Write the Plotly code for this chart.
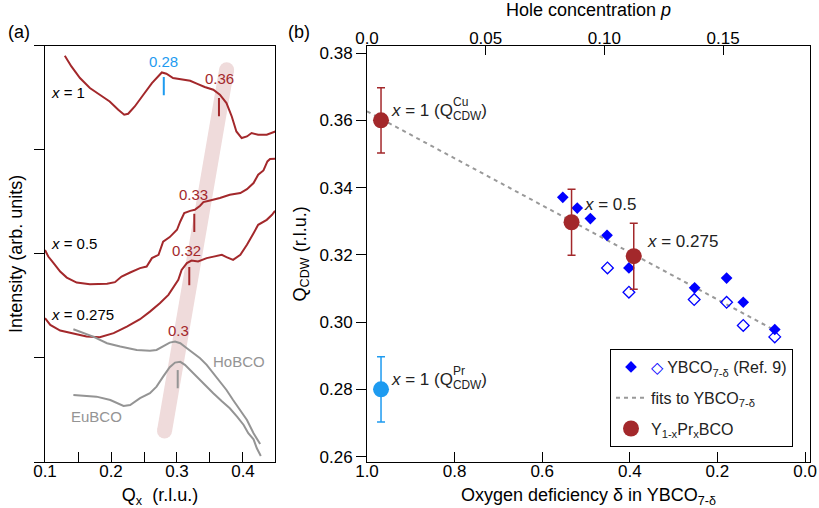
import plotly.graph_objects as go

# ---------------- Panel (a): line cuts (arb. units) ----------------
q_x1 = [0.130, 0.140, 0.153, 0.168, 0.183, 0.198, 0.211, 0.220, 0.226, 0.236, 0.249, 0.262, 0.277, 0.284,
        0.294, 0.307, 0.320, 0.330, 0.342, 0.355, 0.365, 0.375, 0.383, 0.390, 0.398, 0.406, 0.413, 0.423,
        0.436, 0.449]
i_x1 = [3.904, 3.801, 3.689, 3.593, 3.529, 3.464, 3.385, 3.337, 3.346, 3.416, 3.529, 3.641, 3.743, 3.731,
        3.689, 3.673, 3.663, 3.635, 3.603, 3.577, 3.529, 3.449, 3.320, 3.176, 3.113, 3.128, 3.161, 3.144,
        3.144, 3.176]

q_x05 = [0.100, 0.105, 0.113, 0.123, 0.133, 0.148, 0.168, 0.194, 0.206, 0.216, 0.229, 0.244, 0.254, 0.262,
         0.272, 0.279, 0.289, 0.300, 0.305, 0.311, 0.320, 0.327, 0.335, 0.340, 0.350, 0.365, 0.380, 0.396,
         0.406, 0.416, 0.423, 0.431, 0.437, 0.441, 0.449]
i_x05 = [2.038, 1.974, 1.911, 1.830, 1.772, 1.724, 1.709, 1.712, 1.728, 1.782, 1.821, 1.863, 1.878, 1.959,
         1.990, 2.118, 2.161, 2.231, 2.311, 2.391, 2.413, 2.423, 2.462, 2.497, 2.513, 2.536, 2.567, 2.584,
         2.622, 2.680, 2.760, 2.801, 2.888, 2.911, 2.913]

q_x0275 = [0.100, 0.108, 0.123, 0.143, 0.163, 0.183, 0.204, 0.224, 0.244, 0.259, 0.274, 0.287, 0.297, 0.302,
           0.307, 0.315, 0.322, 0.332, 0.345, 0.355, 0.368, 0.375, 0.385, 0.396, 0.406, 0.416, 0.423, 0.436,
           0.444, 0.4485]
i_x0275 = [1.382, 1.317, 1.263, 1.231, 1.205, 1.199, 1.238, 1.301, 1.372, 1.445, 1.526, 1.606, 1.702, 1.750,
           1.846, 1.911, 1.936, 1.926, 1.959, 1.974, 1.990, 1.968, 1.942, 1.990, 2.087, 2.199, 2.279, 2.327,
           2.375, 2.413]

q_ho = [0.143, 0.158, 0.173, 0.194, 0.214, 0.239, 0.259, 0.269, 0.279, 0.289, 0.297, 0.305, 0.315, 0.325,
        0.335, 0.345, 0.355, 0.365, 0.375, 0.385, 0.396, 0.406, 0.416, 0.421, 0.426]
i_ho = [1.276, 1.238, 1.205, 1.141, 1.109, 1.077, 1.070, 1.077, 1.115, 1.147, 1.157, 1.141, 1.093, 1.045,
        0.997, 0.933, 0.853, 0.772, 0.692, 0.596, 0.500, 0.404, 0.276, 0.218, 0.173]

q_eu = [0.143, 0.158, 0.178, 0.199, 0.219, 0.229, 0.244, 0.259, 0.269, 0.279, 0.289, 0.297, 0.305, 0.312,
        0.322, 0.332, 0.345, 0.355, 0.368, 0.380, 0.391, 0.401, 0.408, 0.416, 0.421, 0.427]
i_eu = [0.644, 0.635, 0.628, 0.596, 0.538, 0.548, 0.613, 0.661, 0.724, 0.820, 0.911, 0.955, 0.962, 0.933,
        0.868, 0.805, 0.724, 0.661, 0.583, 0.516, 0.436, 0.356, 0.276, 0.218, 0.132, 0.058]

# guide band through the peaks
band_q = [0.3752, 0.2811]
band_i = [3.769, 0.298]

# peak markers
peak_q = [0.280, 0.3636, 0.3262, 0.3186, 0.3011]
peak_i = [3.611, 3.409, 2.298, 1.786, 0.796]
peak_lbl = ["0.28", "0.36", "0.33", "0.32", "0.3"]
peak_lbl_q = [0.2795, 0.3647, 0.3247, 0.3147, 0.302]
peak_lbl_i = [3.846, 3.683, 2.567, 2.032, 1.26]

qx_ticks = [0.1, 0.2, 0.3, 0.4]
qx_minor = [0.15, 0.25, 0.35]

# ---------------- Panel (b) data ----------------
ybco_d_full = [0.553, 0.520, 0.490, 0.452, 0.402, 0.252, 0.179, 0.141, 0.069]
ybco_q_full = [0.3371, 0.3339, 0.3308, 0.3258, 0.3161, 0.3102, 0.3131, 0.3059, 0.2978]
ybco_d_open = [0.451, 0.402, 0.253, 0.179, 0.141, 0.069]
ybco_q_open = [0.3161, 0.3089, 0.3067, 0.3059, 0.2990, 0.2956]

fit_d = [1.0, 0.068]
fit_q = [0.3627, 0.2975]

ypr_d = [0.968, 0.533, 0.391]
ypr_q = [0.360, 0.3297, 0.3196]
ypr_err = [0.0097, 0.0098, 0.0098]

pr_d = [0.968]
pr_q = [0.280]
pr_err = [0.0097]

delta_ticks = [1.0, 0.8, 0.6, 0.4, 0.2, 0.0]
delta_ticktext = ["1.0", "0.8", "0.6", "0.4", "0.2", "0.0"]
qcdw_ticks = [0.26, 0.28, 0.30, 0.32, 0.34, 0.36, 0.38]
qcdw_ticktext = ["0.26", "0.28", "0.30", "0.32", "0.34", "0.36", "0.38"]

# top axis (hole concentration p)
p_ticks = [0.0, 0.05, 0.10, 0.15]
p_ticktext = ["0.0", "0.05", "0.10", "0.15"]

# ---------------- styling ----------------
FONT = "Liberation Sans, Arial, Helvetica, sans-serif"
RED = "#a3282b"
GRAY = "#949494"
BLUE_L = "#1e9bf0"
BLUE = "#0000ff"
BAND = "#efdbdb"

fig = go.Figure()

# panel (a)
fig.add_trace(go.Scatter(x=band_q, y=band_i, mode="lines+markers",
                         line=dict(color=BAND, width=15), marker=dict(size=15, color=BAND, line=dict(width=0)),
                         xaxis="x", yaxis="y", showlegend=False, hoverinfo="skip"))
for q, i, c in [(q_x1, i_x1, RED), (q_x05, i_x05, RED), (q_x0275, i_x0275, RED),
                (q_ho, i_ho, GRAY), (q_eu, i_eu, GRAY)]:
    fig.add_trace(go.Scatter(x=q, y=i, mode="lines", line=dict(color=c, width=2),
                             xaxis="x", yaxis="y", showlegend=False))
fig.add_trace(go.Scatter(x=peak_q, y=peak_i, mode="markers",
                         marker=dict(symbol="line-ns", size=13,
                                     line=dict(width=2, color=[BLUE_L, RED, RED, RED, GRAY])),
                         xaxis="x", yaxis="y", showlegend=False))

# panel (b)
fig.add_trace(go.Scatter(x=fit_d, y=fit_q, mode="lines", name="fits to YBCO<sub>7-δ</sub>",
                         line=dict(color="#999999", width=2, dash="4px,4px"),
                         xaxis="x2", yaxis="y2", legendgroup="g2", legendrank=2))
fig.add_trace(go.Scatter(x=ybco_d_open, y=ybco_q_open, mode="markers",
                         marker=dict(symbol="diamond-open", size=9, color=BLUE, line=dict(width=1.3, color=BLUE)),
                         xaxis="x2", yaxis="y2", showlegend=False))
fig.add_trace(go.Scatter(x=ybco_d_full, y=ybco_q_full, mode="markers",
                         name='<span style="color:#0000ff">◇</span> YBCO<sub>7-δ</sub> (Ref. 9)',
                         marker=dict(symbol="diamond", size=9, color=BLUE),
                         xaxis="x2", yaxis="y2", legendgroup="g1", legendrank=1))
fig.add_trace(go.Scatter(x=pr_d, y=pr_q, mode="markers",
                         marker=dict(size=16, color=BLUE_L),
                         error_y=dict(type="data", array=pr_err, color=BLUE_L, thickness=1.5, width=4),
                         xaxis="x2", yaxis="y2", showlegend=False))
fig.add_trace(go.Scatter(x=ypr_d, y=ypr_q, mode="markers", name="Y<sub>1-x</sub>Pr<sub>x</sub>BCO",
                         marker=dict(size=16, color=RED),
                         error_y=dict(type="data", array=ypr_err, color=RED, thickness=1.5, width=4),
                         xaxis="x2", yaxis="y2", legendgroup="g3", legendrank=3))
# empty trace so that the top (hole concentration) axis is drawn
fig.add_trace(go.Scatter(x=[], y=[], mode="markers", xaxis="x3", yaxis="y2", showlegend=False,
                         hoverinfo="skip"))

ann = []
for t, q, i, c in zip(peak_lbl, peak_lbl_q, peak_lbl_i, [BLUE_L, RED, RED, RED, RED]):
    ann.append(dict(text=t, x=q, y=i, xref="x", yref="y", showarrow=False,
                    font=dict(size=15, color=c, family=FONT)))
for t, i in [("<i>x</i> = 1", 3.555), ("<i>x</i> = 0.5", 2.103), ("<i>x</i> = 0.275", 1.42)]:
    ann.append(dict(text=t, x=0.106, y=i, xref="x", yref="y", showarrow=False, xanchor="left",
                    font=dict(size=15, color="black", family=FONT)))
ann.append(dict(text="HoBCO", x=0.3944, y=0.964, xref="x", yref="y", showarrow=False,
                font=dict(size=15, color=GRAY, family=FONT)))
ann.append(dict(text="EuBCO", x=0.1783, y=0.442, xref="x", yref="y", showarrow=False,
                font=dict(size=15, color=GRAY, family=FONT)))

# panel (b) labels
ann.append(dict(text="<i>x</i> = 1 (Q<sub>CDW</sub>)", x=0.949, y=0.3625, xref="x2", yref="y2",
                showarrow=False, xanchor="left", font=dict(size=17, color="#222", family=FONT)))
ann.append(dict(text="Cu", x=0.808, y=0.3655, xref="x2", yref="y2",
                showarrow=False, xanchor="left", font=dict(size=12, color="#222", family=FONT)))
ann.append(dict(text="<i>x</i> = 1 (Q<sub>CDW</sub>)", x=0.949, y=0.2825, xref="x2", yref="y2",
                showarrow=False, xanchor="left", font=dict(size=17, color="#222", family=FONT)))
ann.append(dict(text="Pr", x=0.808, y=0.2855, xref="x2", yref="y2",
                showarrow=False, xanchor="left", font=dict(size=12, color="#222", family=FONT)))
ann.append(dict(text="<i>x</i> = 0.5", x=0.510, y=0.3349, xref="x2", yref="y2",
                showarrow=False, xanchor="left", font=dict(size=17, color="#222", family=FONT)))
ann.append(dict(text="<i>x</i> = 0.275", x=0.366, y=0.3240, xref="x2", yref="y2",
                showarrow=False, xanchor="left", font=dict(size=17, color="#222", family=FONT)))
ann.append(dict(text="(a)", x=19 / 819, y=1 - 32 / 508, xref="paper", yref="paper", showarrow=False,
                xanchor="center", yanchor="middle", font=dict(size=18, color="black", family=FONT)))
ann.append(dict(text="(b)", x=299 / 819, y=1 - 32 / 508, xref="paper", yref="paper", showarrow=False,
                xanchor="center", yanchor="middle", font=dict(size=18, color="black", family=FONT)))

axis_common = dict(showline=True, linecolor="black", linewidth=1, showgrid=False, zeroline=False,
                   automargin=False,
                   tickcolor="black", tickwidth=1, tickfont=dict(size=17, color="black", family=FONT))

ydom = [46 / 508, 1 - 45.7 / 508]
fig.update_layout(
    width=819, height=508, margin=dict(l=0, r=0, t=0, b=0, autoexpand=False),
    paper_bgcolor="white", plot_bgcolor="white",
    font=dict(family=FONT, color="black"),
    annotations=ann,
    xaxis=dict(domain=[45 / 819, 275 / 819], range=[0.1, 0.4485], anchor="y", mirror=True,
               tickvals=qx_ticks, ticktext=[f"{v:.1f}" for v in qx_ticks],
               ticks="inside", ticklen=10, ticklabelstandoff=-6,
               minor=dict(tickvals=qx_minor, ticks="inside", ticklen=10, tickcolor="black", tickwidth=1,
                          showgrid=False),
               title=dict(text="Q<sub>x</sub>  (r.l.u.)", font=dict(size=18, family=FONT), standoff=10),
               **axis_common),
    yaxis=dict(domain=ydom, range=[0, 4.0], anchor="x", mirror=True,
               tickvals=[0, 1, 2, 3, 4], showticklabels=False, ticks="outside", ticklen=10,
               title=dict(text="Intensity (arb. units)", font=dict(size=18, family=FONT), standoff=6),
               **axis_common),
    xaxis2=dict(domain=[367 / 819, 810 / 819], range=[1.0, -0.0114], anchor="y2",
                tickvals=delta_ticks, ticktext=delta_ticktext,
                ticks="inside", ticklen=10, ticklabelstandoff=-6,
                title=dict(text="Oxygen deficiency δ in YBCO<sub>7-δ</sub>", font=dict(size=18, family=FONT),
                           standoff=9),
                **axis_common),
    yaxis2=dict(domain=ydom, range=[0.2584, 0.3822], anchor="x2", mirror=True,
                tickvals=qcdw_ticks, ticktext=qcdw_ticktext,
                ticks="outside", ticklen=10,
                title=dict(text="Q<sub>CDW</sub> (r.l.u.)", font=dict(size=18, family=FONT), standoff=8),
                **axis_common),
    xaxis3=dict(overlaying="x2", side="top", anchor="y2", range=[0, 0.1866],
                tickvals=p_ticks, ticktext=p_ticktext,
                ticks="inside", ticklen=9, ticklabelstandoff=-6,
                title=dict(text="Hole concentration <i>p</i>", font=dict(size=18, family=FONT), standoff=10),
                **axis_common),
    legend=dict(x=610 / 819, y=1 - 349 / 508, xanchor="left", yanchor="top",
                bordercolor="black", borderwidth=1, bgcolor="white",
                font=dict(size=16, family=FONT, color="#222"), tracegroupgap=7,
                traceorder="grouped"),
)

fig.write_html("out.html")
